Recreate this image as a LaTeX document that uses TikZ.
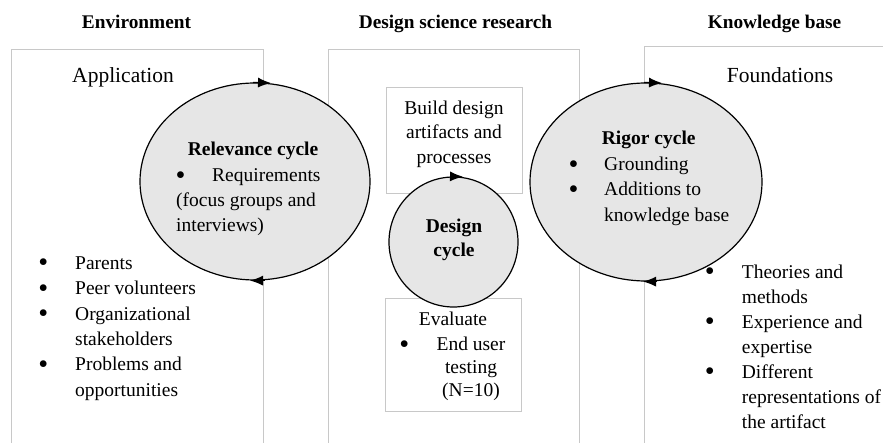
\documentclass[tikz,border=0pt]{standalone}
\usepackage{fontspec}
\usepackage{graphicx}
\setmainfont{Liberation Serif}
\usetikzlibrary{shapes.geometric,arrows.meta,calc}
\definecolor{boxgray}{HTML}{C8C8C8}
\definecolor{cyclefill}{HTML}{E6E6E6}
% a slightly heavier list bullet
\newcommand\bigdot{\hspace*{-1.2pt}\raisebox{-2.6pt}{\scalebox{1.45}{\textbullet}}}
\newcommand\bulletcol[1]{\makebox[#1][l]{\bigdot}}
\tikzset{
  frame/.style={draw=boxgray, line width=1pt},
  innerbox/.style={rectangle, draw=boxgray, line width=1pt, inner sep=0pt},
  cyclenode/.style={ellipse, draw=black, line width=1.2pt, fill=cyclefill, inner sep=0pt},
  txt/.style={inner sep=0pt, font=\fontsize{19.5}{25.4}\selectfont},
  boldtxt/.style={txt, font=\fontsize{19.5}{25.4}\selectfont\bfseries},
  head/.style={inner sep=0pt, font=\fontsize{19.3}{23}\selectfont\bfseries},
  big/.style={inner sep=0pt, font=\fontsize{21.5}{26}\selectfont},
  cyctip/.style={-{Latex[length=13pt,width=10pt]}, line width=1.2pt},
}
\begin{document}
\begin{tikzpicture}[x=1pt,y=-1pt]
\useasboundingbox (0,0) rectangle (883,443);

% column headings
\node[head, anchor=base] (hEnv) at (136.5,28.5) {Environment};
\node[head, anchor=base] (hDsr) at (455.5,28.5) {Design science research};
\node[head, anchor=base] (hKb)  at (774.5,28.5) {Knowledge base};

% open column frames
\draw[frame] (11,443) -- (11,50) -- (263,50) -- (263,443);
\draw[frame] (328,443) -- (328,50) -- (579,50) -- (579,443);
\draw[frame] (883,47) -- (644,47) -- (644,443);

% inner boxes of the design column
\node[innerbox, minimum width=136pt, minimum height=106pt] (build) at (454,141) {};
\node[innerbox, minimum width=136pt, minimum height=112pt] (evalbox) at (453,355) {};

% the three cycles
\node[cyclenode, minimum width=230pt, minimum height=197pt] (rel) at (255,181.5) {};
\node[cyclenode, minimum width=232pt, minimum height=198pt] (rig) at (646,182) {};
\node[cyclenode, minimum width=129pt, minimum height=130pt] (des) at (453.5,242) {};

% direction marks on the cycles
\draw[cyctip] ($(rel.north)+(-2,0)$) -- ($(rel.north)+(16,0.6)$);
\draw[cyctip] ($(rel.south)+(10,0)$) -- ($(rel.south)+(-5,0)$);
\draw[cyctip] ($(rig.north)+(-2,0)$) -- ($(rig.north)+(16,0.6)$);
\draw[cyctip] ($(rig.south)+(11,0)$) -- ($(rig.south)+(-3,0)$);
\draw[cyctip] ($(des.north)+(-3,0)$) -- ($(des.north)+(9.5,0.3)$);

% environment column
\node[big, anchor=base] (app) at (123,82.5) {Application};
\node[txt, anchor=base west] (envlist) at (39.3,269.3) {%
  \begin{tabular}[t]{@{}l@{}l@{}}
  \bulletcol{35.7pt} & Parents\\
  \bulletcol{35.7pt} & Peer volunteers\\
  \bulletcol{35.7pt} & Organizational\\
   & stakeholders\\
  \bulletcol{35.7pt} & Problems and\\
   & opportunities
  \end{tabular}};

% relevance cycle text
\node[boldtxt, anchor=base] (relTitle) at (253,156) {Relevance cycle};
\node[txt, anchor=base west] (relReq) at (176.6,181.5) {\bulletcol{35.4pt}Requirements};
\node[txt, anchor=base west] (relMore) at (176,206.5) {%
  \begin{tabular}[t]{@{}l@{}}
  (focus groups and\\
  interviews)
  \end{tabular}};

% design column text
\node[txt, anchor=base, font=\fontsize{19.5}{24.5}\selectfont] (buildText) at (454,114.5) {%
  \begin{tabular}[t]{@{}c@{}}
  Build design\\
  artifacts and\\
  processes
  \end{tabular}};
\node[boldtxt, anchor=base, font=\fontsize{19.5}{24}\selectfont\bfseries] (desText) at (454,233) {%
  \begin{tabular}[t]{@{}c@{}}
  Design\\
  cycle
  \end{tabular}};
\node[txt, anchor=base] (evalHead) at (453,326) {Evaluate};
\node[txt, anchor=base] (evalBullet) at (405,350.7) {\bigdot};
\node[txt, anchor=base, font=\fontsize{19.5}{23}\selectfont] (evalText) at (471,350.7) {%
  \begin{tabular}[t]{@{}c@{}}
  End user\\
  testing\\
  (N=10)
  \end{tabular}};

% rigor cycle text
\node[boldtxt, anchor=base west] (rigTitle) at (601.7,145) {Rigor cycle};
\node[txt, anchor=base west] (rigList) at (569.6,170.5) {%
  \begin{tabular}[t]{@{}l@{}l@{}}
  \bulletcol{34.4pt} & Grounding\\
  \bulletcol{34.4pt} & Additions to\\
   & knowledge base
  \end{tabular}};

% knowledge base column
\node[big, anchor=base] (found) at (780,82.5) {Foundations};
\node[txt, anchor=base west, font=\fontsize{19.5}{25}\selectfont] (kbList) at (705.9,278.3) {%
  \begin{tabular}[t]{@{}l@{}l@{}}
  \bulletcol{35.8pt} & Theories and\\
   & methods\\
  \bulletcol{35.8pt} & Experience and\\
   & expertise\\
  \bulletcol{35.8pt} & Different\\
   & representations of\\
   & the artifact
  \end{tabular}};
\end{tikzpicture}
\end{document}
